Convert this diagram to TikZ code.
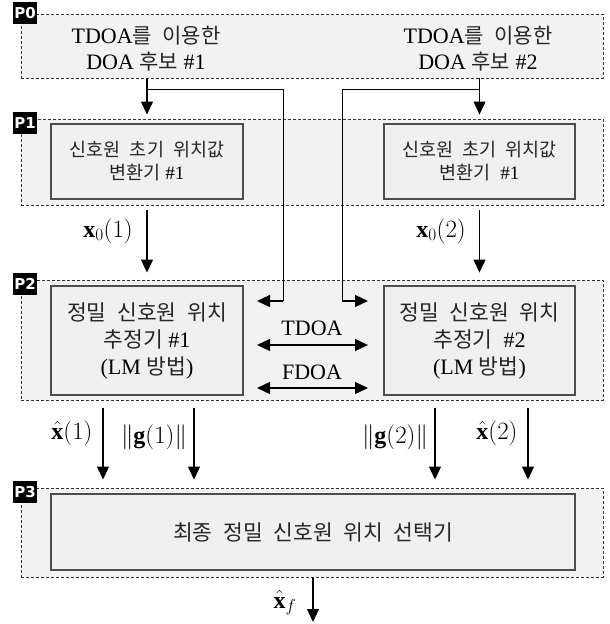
\documentclass[tikz,border=0pt]{standalone}
\usepackage{fontspec}
\setmainfont{Liberation Serif}
\newfontfamily\kr[WordSpace=2.2,Color=262626]{Noto Sans CJK KR}
\newfontfamily\plab{DejaVu Sans}
\usetikzlibrary{arrows.meta}
\definecolor{regfill}{HTML}{F2F2F2}
\definecolor{boxfill}{HTML}{F0F0F0}
\definecolor{boxline}{HTML}{4D4D4D}
\tikzset{
 region/.style={draw=black!80, dash pattern=on 3pt off 2pt, fill=regfill, line width=0.9pt, inner sep=0pt},
 blockbox/.style={draw=boxline, fill=boxfill, line width=1.3pt, inner sep=0pt, align=center},
 plabel/.style={fill=black, text=white, font=\plab\bfseries\fontsize{15}{15}\selectfont, minimum width=24pt, minimum height=22pt, inner sep=0pt},
 arr/.style={-{Triangle[length=13pt,width=12pt]}, line width=1.2pt},
 darr/.style={{Triangle[length=13pt,width=12pt]}-{Triangle[length=13pt,width=12pt]}, line width=1.2pt},
 lab/.style={font=\fontsize{22}{22}\selectfont, inner sep=0pt},
 mlab/.style={font=\fontsize{24}{24}\selectfont, inner sep=0pt},
 txt/.style={align=center, inner sep=0pt},
}
\begin{document}
\begin{tikzpicture}[x=1pt,y=-1pt]
\useasboundingbox (0,0) rectangle (610,624);
% regions
\node[region, minimum width=582pt, minimum height=64pt] (p0) at (312,46) {};
\node[region, minimum width=582pt, minimum height=86pt] (p1) at (312,162) {};
\node[region, minimum width=582pt, minimum height=120pt] (p2) at (312,340) {};
\node[region, minimum width=582pt, minimum height=89pt] (p3) at (312,532.5) {};
% region labels
\node[plabel] (l0) at (25,13) {P0};
\node[plabel] (l1) at (25,123) {P1};
\node[plabel] (l2) at (25,284) {P2};
\node[plabel] (l3) at (25,492) {P3};
% P0 texts
\node[txt, font=\fontsize{22}{26}\selectfont] (t0l) at (146,49) {TDOA{\kr\fontsize{21}{26}\selectfont 를 이용한}\\DOA {\kr\fontsize{21}{26}\selectfont 후보} \#1};
\node[txt, font=\fontsize{22}{26}\selectfont] (t0r) at (478,49) {TDOA{\kr\fontsize{21}{26}\selectfont 를 이용한}\\DOA {\kr\fontsize{21}{26}\selectfont 후보} \#2};
% P1 boxes
\node[blockbox, minimum width=192pt, minimum height=75pt, font=\fontsize{19}{23}\selectfont] (p1l) at (147,161.5)
 {{\kr\fontsize{18.5}{23}\selectfont 신호원 초기 위치값}\\{\kr\fontsize{18.5}{23}\selectfont 변환기} \#1};
\node[blockbox, minimum width=191pt, minimum height=75pt, font=\fontsize{19}{23}\selectfont] (p1r) at (479.5,161.5)
 {{\kr\fontsize{18.5}{23}\selectfont 신호원 초기 위치값}\\{\kr\fontsize{18.5}{23}\selectfont 변환기}\ \ \#1};
% P2 boxes
\node[blockbox, minimum width=192pt, minimum height=109pt, font=\fontsize{22}{27}\selectfont] (p2l) at (147,340.5)
 {{\kr\fontsize{21.5}{27}\selectfont 정밀 신호원 위치}\\{\kr\fontsize{21.5}{27}\selectfont 추정기} \#1\\(LM {\kr\fontsize{21.5}{27}\selectfont 방법})};
\node[blockbox, minimum width=191pt, minimum height=109pt, font=\fontsize{22}{27}\selectfont] (p2r) at (479.5,340.5)
 {{\kr\fontsize{21.5}{27}\selectfont 정밀 신호원 위치}\\{\kr\fontsize{21.5}{27}\selectfont 추정기}\ \ \#2\\(LM {\kr\fontsize{21.5}{27}\selectfont 방법})};
% P3 box
\node[blockbox, minimum width=524pt, minimum height=76pt] (p3b) at (313,532)
 {{\kr\fontsize{21.5}{25}\selectfont 최종 정밀 신호원 위치 선택기}};
% labels
\node[mlab] (x0l) at (108,231) {$\mathbf{x}_0(1)$};
\node[mlab] (x0r) at (441,231) {$\mathbf{x}_0(2)$};
\node[lab] (tdoa) at (312,328) {TDOA};
\node[lab] (fdoa) at (312,372) {FDOA};
\node[mlab] (xh1) at (72,433) {$\hat{\mathbf{x}}(1)$};
\node[mlab] (g1) at (154,437) {$\|\mathbf{g}(1)\|$};
\node[mlab] (g2) at (395,437) {$\|\mathbf{g}(2)\|$};
\node[mlab] (xh2) at (497,433) {$\hat{\mathbf{x}}(2)$};
\node[mlab] (xf) at (285,603) {$\hat{\mathbf{x}}_f$};
% coordinates
\coordinate (jl) at (147,89);
\coordinate (kl) at (283,301);
\coordinate (el) at (257,301);
\coordinate (jr) at (479.5,89);
\coordinate (kr) at (342,301);
\coordinate (er) at (368,301);
\coordinate (tdl) at (257,345);
\coordinate (tdr) at (368,345);
\coordinate (fdl) at (257,388);
\coordinate (fdr) at (368,388);
\coordinate (a1) at (103,400);
\coordinate (a2) at (194,400);
\coordinate (a3) at (435,400);
\coordinate (a4) at (528,400);
\coordinate (ofin) at (313,622);
% connectors
\draw[arr, shorten >=4pt] (p0.south -| p1l.center) -- (p1.north -| p1l.center);
\draw[arr, shorten >=4pt] (p0.south -| p1r.center) -- (p1.north -| p1r.center);
\draw[line width=1pt] (jl) -| (kl);
\draw[arr] (kl) -- (el);
\draw[line width=1pt] (jr) -| (kr);
\draw[arr] (kr) -- (er);
\draw[arr, shorten <=5pt, shorten >=7pt] (p1.south -| p1l.center) -- (p2.north -| p1l.center);
\draw[arr, shorten <=5pt, shorten >=7pt] (p1.south -| p1r.center) -- (p2.north -| p1r.center);
\draw[darr] (tdl) -- (tdr);
\draw[darr] (fdl) -- (fdr);
\foreach \c in {a1,a2,a3,a4}{
 \draw[arr, shorten <=8pt, shorten >=8pt] (\c) -- (p3.north -| \c);
}
\draw[arr] (p3.south -| p3b.center) -- (ofin);
\end{tikzpicture}
\end{document}
